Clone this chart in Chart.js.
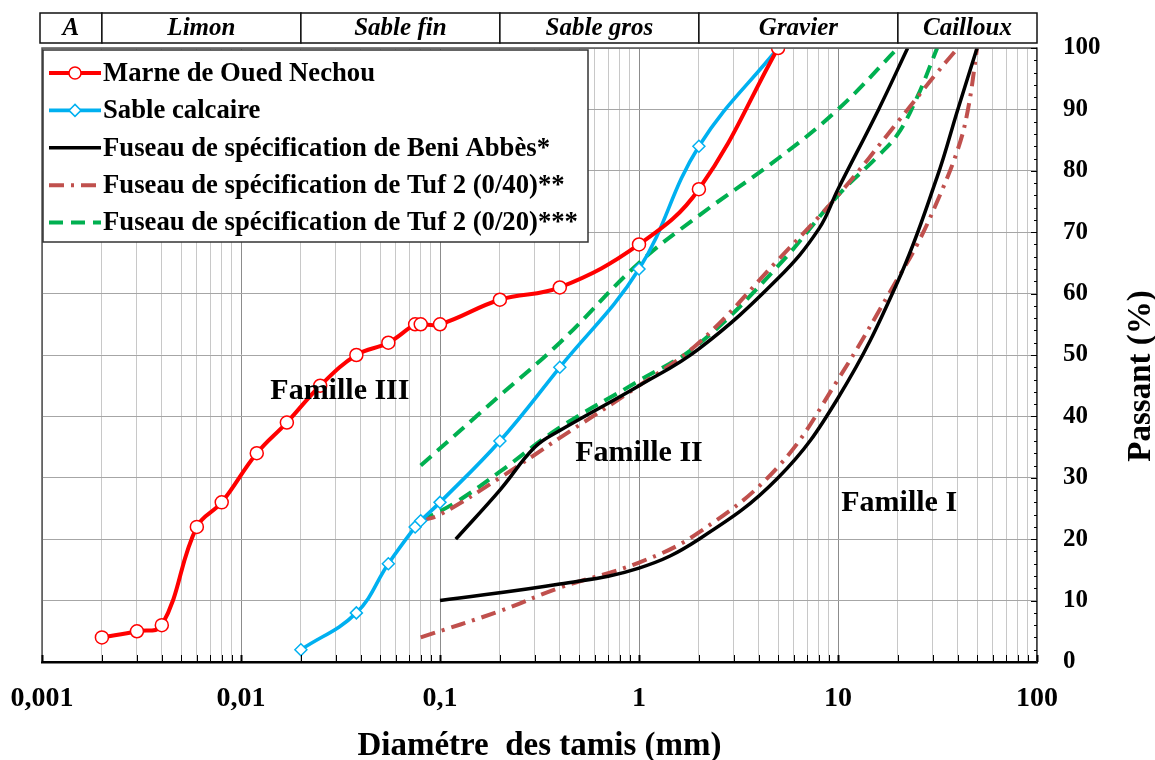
<!DOCTYPE html>
<html><head><meta charset="utf-8">
<script src="https://cdn.jsdelivr.net/npm/chart.js@4.4.1/dist/chart.umd.min.js"></script>
<style>html,body{margin:0;padding:0;background:#fff}#wrap{width:1155px;height:760px}</style>
</head><body><div id="wrap"><canvas id="c" width="1155" height="760"></canvas></div>
<script>
// ---- data ----
const marneD = [0.002,0.003,0.004,0.006,0.008,0.012,0.017,0.025,0.038,0.055,0.075,0.08,0.1,0.2,0.4,1,2,5];
const marneP = [4,5,6,22,26,34,39,45,50,52,55,55,55,59,61,68,77,100];
const sableD = [0.02,0.038,0.055,0.075,0.08,0.1,0.2,0.4,1,2,5];
const sableP = [2,8,16,22,23,26,36,48,64,84,100];
const beniSupD = [0.12,0.2,0.3,0.4,1,2,5,8,10,16,22.4];
const beniSupP = [20,28,35,37.7,45,51,62.5,70.5,77,90,100];
const beniInfD = [0.1,0.4,1,2,5,10,20,31.5,40,50];
const beniInfP = [10,12.7,15.3,20,30,43,62,79,90,100];
const tuf40SupD = [0.08,0.1,0.2,0.4,1,2,5,10,20,31.5,40];
const tuf40SupP = [23,24,30,36.5,45,52,65.5,76,88,96,100];
const tuf40InfD = [0.08,0.2,0.4,1,2,5,10,20,25,31.5,40,45,50];
const tuf40InfP = [4,8.3,12.1,16.2,21.1,31.8,46,62.5,68,75,83.5,90,100];
const tuf20SupD = [0.08,0.2,0.4,1,2,5,10,20];
const tuf20SupP = [32,43.4,52,65,72.7,82,90,100];
const tuf20InfD = [0.08,0.12,0.2,0.4,1,2,5,10,16,20,25,31.5];
const tuf20InfP = [23,26,31,38.2,45.8,51.8,64.5,76,82.5,86,92,100];

const seriesNames = ['Marne de Oued Nechou','Sable calcaire','Fuseau de spécification de Beni Abbès*',
  'Fuseau de spécification de Tuf 2 (0/40)**','Fuseau de spécification de Tuf 2 (0/20)***'];

const zoneBounds = [0.001,0.002,0.02,0.2,2,20,100];
const zoneLabels = ['A','Limon','Sable fin','Sable gros','Gravier','Cailloux'];
const xTickValues = [0.001,0.01,0.1,1,10,100];
const xTickLabels = ['0,001','0,01','0,1','1','10','100'];
const yMin = 0, yMax = 100, yStep = 10;
const familyLabels = ['Famille III','Famille II','Famille I'];
const familyD = [0.0314,1.0,20.3];
const familyP = [44.1,34,25.9];
const xTitle = 'Diamétre  des tamis (mm)';
const yTitle = 'Passant (%)';

// ---- styles ----
const RED='#FF0000', BLUE='#00B0F0', BLACK='#000000', BROWN='#C0504D', GREEN='#00B050';
const DASHDOT=[15,7,3,7], DASH=[14,8];
const SERIF='"Liberation Serif","Times New Roman",serif';

const pts = (D,P) => D.map((d,i)=>({x:d,y:P[i]}));
const base = {fill:false, tension:0.4, cubicInterpolationMode:'default', pointRadius:0, borderCapStyle:'butt'};

const datasets = [
  Object.assign({}, base, {label:seriesNames[0], data:pts(marneD,marneP), borderColor:RED, borderWidth:4,
    pointRadius:6.5, pointStyle:'circle', pointBackgroundColor:'#fff', pointBorderColor:RED, pointBorderWidth:1.5, legend:true}),
  Object.assign({}, base, {label:seriesNames[1], data:pts(sableD,sableP), borderColor:BLUE, borderWidth:3.6,
    pointRadius:6, pointStyle:'rectRot', pointBackgroundColor:'#fff', pointBorderColor:BLUE, pointBorderWidth:1.5, legend:true}),
  Object.assign({}, base, {label:seriesNames[2], data:pts(beniSupD,beniSupP), borderColor:BLACK, borderWidth:3.5, legend:true}),
  Object.assign({}, base, {label:seriesNames[2], data:pts(beniInfD,beniInfP), borderColor:BLACK, borderWidth:3.5}),
  Object.assign({}, base, {label:seriesNames[3], data:pts(tuf40SupD,tuf40SupP), borderColor:BROWN, borderWidth:4, borderDash:DASHDOT, legend:true}),
  Object.assign({}, base, {label:seriesNames[3], data:pts(tuf40InfD,tuf40InfP), borderColor:BROWN, borderWidth:4, borderDash:DASHDOT}),
  Object.assign({}, base, {label:seriesNames[4], data:pts(tuf20SupD,tuf20SupP), borderColor:GREEN, borderWidth:4, borderDash:DASH, legend:true}),
  Object.assign({}, base, {label:seriesNames[4], data:pts(tuf20InfD,tuf20InfP), borderColor:GREEN, borderWidth:4, borderDash:DASH})
];

const isMajor = v => xTickValues.some(t => Math.abs(t - v) / t < 1e-6);
const allXTicks = [];
xTickValues.forEach((d,i) => {
  if (i === xTickValues.length - 1) { allXTicks.push(d); return; }
  for (let m = 1; m <= 9; m++) allXTicks.push(Number((m*d).toPrecision(6)));
});

const decor = {
  id:'decor',
  beforeDraw(chart){
    const c = chart.ctx; c.save(); c.fillStyle='#fff'; c.fillRect(0,0,chart.width,chart.height); c.restore();
  },
  afterDatasetsDraw(chart){
    const c = chart.ctx, a = chart.chartArea, xs = chart.scales.x, ys = chart.scales.y;
    c.save();
    // frame left/top
    c.strokeStyle='#555'; c.lineWidth=1.5;
    c.beginPath(); c.moveTo(a.left, a.bottom); c.lineTo(a.left, a.top); c.lineTo(a.right, a.top); c.stroke();
    // bottom tick marks
    c.strokeStyle='#000';
    allXTicks.forEach(v => {
      const x = Math.round(xs.getPixelForValue(v)) + 0.5;
      c.lineWidth = isMajor(v) ? 2 : 1;
      c.beginPath(); c.moveTo(x, a.bottom); c.lineTo(x, a.bottom - 7); c.stroke();
    });
    // right minor ticks
    c.lineWidth=1;
    for (let p = yMin; p <= yMax; p += 2) {
      const y = Math.round(ys.getPixelForValue(p)) + 0.5;
      c.beginPath(); c.moveTo(a.right, y); c.lineTo(a.right - (p % 10 === 0 ? 6 : 3), y); c.stroke();
    }
    // family labels
    c.fillStyle='#000'; c.font='bold 30px '+SERIF; c.textAlign='center'; c.textBaseline='middle';
    familyLabels.forEach((t,i) => c.fillText(t, xs.getPixelForValue(familyD[i]), ys.getPixelForValue(familyP[i])));
    // header band
    const hTop = 13, hBot = 43;
    c.lineWidth=1.5; c.strokeStyle='#111';
    c.font='italic bold 25px '+SERIF;
    for (let i = 0; i < zoneLabels.length; i++) {
      const x0 = xs.getPixelForValue(zoneBounds[i]) - (i===0?2:0), x1 = xs.getPixelForValue(zoneBounds[i+1]);
      c.fillStyle='#fff'; c.fillRect(x0, hTop, x1-x0, hBot-hTop);
      c.strokeRect(x0, hTop, x1-x0, hBot-hTop);
      c.fillStyle='#000'; c.fillText(zoneLabels[i], (x0+x1)/2, (hTop+hBot)/2 + 1);
    }
    // legend
    const lx0 = 43, ly0 = 50, lw = 545, lh = 192;
    c.fillStyle='#fff'; c.fillRect(lx0, ly0, lw, lh);
    c.strokeStyle='#333'; c.lineWidth=1.5; c.strokeRect(lx0, ly0, lw, lh);
    const entries = chart.data.datasets.filter(d => d.legend);
    c.font='bold 26.7px '+SERIF; c.textAlign='left'; c.textBaseline='middle';
    entries.forEach((d,i) => {
      const y = 73 + i*37.4;
      c.save();
      c.strokeStyle=d.borderColor; c.lineWidth=d.borderWidth; c.setLineDash(d.borderDash||[]);
      c.beginPath(); c.moveTo(49, y); c.lineTo(101, y); c.stroke();
      c.restore();
      if (d.pointStyle) {
        c.save(); c.fillStyle='#fff'; c.strokeStyle=d.pointBorderColor; c.lineWidth=1.5;
        c.beginPath();
        if (d.pointStyle==='circle') c.arc(75, y, 6, 0, Math.PI*2);
        else { c.moveTo(75, y-6); c.lineTo(81, y); c.lineTo(75, y+6); c.lineTo(69, y); c.closePath(); }
        c.fill(); c.stroke(); c.restore();
      }
      c.fillStyle='#000'; c.fillText(d.label, 103, y + 1);
    });
    // y title
    c.save(); c.translate(1141, 376); c.rotate(-Math.PI/2);
    c.font='bold 33px '+SERIF; c.textAlign='center'; c.textBaseline='middle'; c.fillStyle='#000';
    c.fillText(yTitle, 0, 0); c.restore();
    c.restore();
  }
};

new Chart(document.getElementById('c'), {
  type:'line',
  data:{datasets},
  options:{
    responsive:false, animation:false, devicePixelRatio:1,
    layout:{padding:{left:42, top:48, right:0, bottom:0}},
    plugins:{legend:{display:false}, tooltip:{enabled:false}},
    scales:{
      x:{type:'logarithmic', min:xTickValues[0], max:xTickValues[xTickValues.length-1],
        afterBuildTicks: s => { s.ticks = allXTicks.map(v => ({value:v, major:isMajor(v)})); },
        afterFit: s => { s.height = 98; s.paddingLeft = 0; s.paddingRight = 0; },
        ticks:{autoSkip:false, maxRotation:0, minRotation:0, padding:20, color:'#000',
          font:{family:SERIF, size:28, weight:'bold'},
          callback: v => { const i = xTickValues.findIndex(t => Math.abs(t-v)/t < 1e-6); return i >= 0 ? xTickLabels[i] : ''; }},
        grid:{drawTicks:false, lineWidth:1, color: ctx => (ctx.tick && isMajor(ctx.tick.value)) ? '#8c8c8c' : '#c8c8c8'},
        border:{color:'#000', width:2.5},
        title:{display:true, text:xTitle, color:'#000', padding:{top:0,bottom:0},
          font:{family:SERIF, size:33, weight:'bold', lineHeight:0.85}}
      },
      y:{type:'linear', position:'right', min:yMin, max:yMax,
        afterFit: s => { s.width = 118; },
        ticks:{stepSize:yStep, padding:26, color:'#000', font:{family:SERIF, size:25, weight:'bold'}},
        grid:{drawTicks:false, color:'#a6a6a6', lineWidth:1},
        border:{color:'#444', width:1.5}
      }
    }
  },
  plugins:[decor]
});
</script></body></html>
